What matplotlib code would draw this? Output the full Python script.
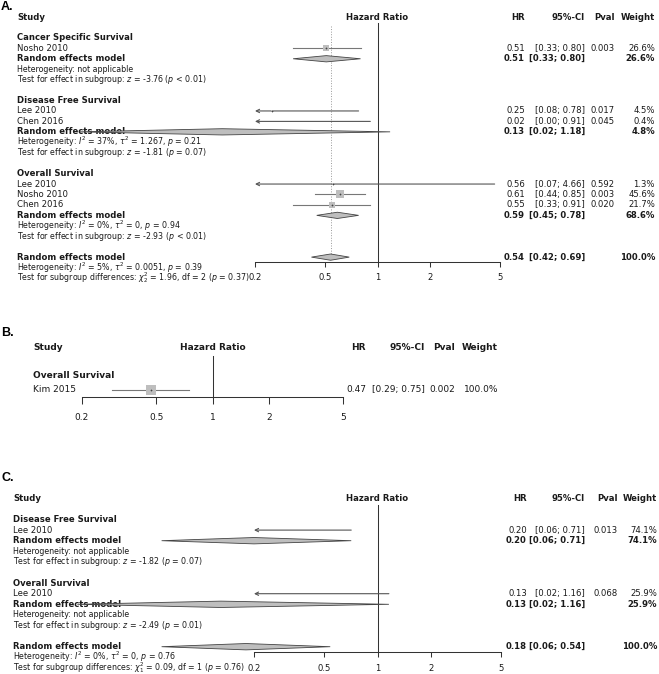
import matplotlib
matplotlib.use('Agg')
import matplotlib.pyplot as plt
from matplotlib import transforms
from matplotlib.patches import Polygon
from matplotlib.ticker import NullLocator

W, H = 659, 674
XMIN, XMAX = 0.2, 5
TICKS = [0.2, 0.5, 1, 2, 5]
TICKLABELS = ['0.2', '0.5', '1', '2', '5']
TXT = '#1a1a1a'
SQ = '#bebebe'
LINE = '#777777'

########################################################################################################################
## Panel A data
########################################################################################################################
a_groups = ['Cancer Specific Survival', 'Disease Free Survival', 'Overall Survival']
a_studies = [['Nosho 2010'], ['Lee 2010', 'Chen 2016'], ['Lee 2010', 'Nosho 2010', 'Chen 2016']]
a_hr = [[0.51], [0.25, 0.02], [0.56, 0.61, 0.55]]
a_lo = [[0.33], [0.08, 0.00], [0.07, 0.44, 0.33]]
a_hi = [[0.80], [0.78, 0.91], [4.66, 0.85, 0.91]]
a_pval = [['0.003'], ['0.017', '0.045'], ['0.592', '0.003', '0.020']]
a_weight = [[26.6], [4.5, 0.4], [1.3, 45.6, 21.7]]
a_sub_hr = [0.51, 0.13, 0.59]
a_sub_lo = [0.33, 0.02, 0.45]
a_sub_hi = [0.80, 1.18, 0.78]
a_sub_weight = [26.6, 4.8, 68.6]
a_het = ['Heterogeneity: not applicable',
         r'Heterogeneity: $I^2$ = 37%, $\tau^2$ = 1.267, $p$ = 0.21',
         r'Heterogeneity: $I^2$ = 0%, $\tau^2$ = 0, $p$ = 0.94']
a_test = [r'Test for effect in subgroup: $z$ = -3.76 ($p$ < 0.01)',
          r'Test for effect in subgroup: $z$ = -1.81 ($p$ = 0.07)',
          r'Test for effect in subgroup: $z$ = -2.93 ($p$ < 0.01)']
a_total = [0.54, 0.42, 0.69, 100.0]
a_total_het = r'Heterogeneity: $I^2$ = 5%, $\tau^2$ = 0.0051, $p$ = 0.39'
a_total_test = r'Test for subgroup differences: $\chi^2_2$ = 1.96, df = 2 ($p$ = 0.37)'

########################################################################################################################
## Panel B data
########################################################################################################################
b_groups = ['Overall Survival']
b_studies = [['Kim 2015']]
b_hr = [[0.47]]
b_lo = [[0.29]]
b_hi = [[0.75]]
b_pval = [['0.002']]
b_weight = [[100.0]]

########################################################################################################################
## Panel C data
########################################################################################################################
c_groups = ['Disease Free Survival', 'Overall Survival']
c_studies = [['Lee 2010'], ['Lee 2010']]
c_hr = [[0.20], [0.13]]
c_lo = [[0.06], [0.02]]
c_hi = [[0.71], [1.16]]
c_pval = [['0.013'], ['0.068']]
c_weight = [[74.1], [25.9]]
c_sub_hr = [0.20, 0.13]
c_sub_lo = [0.06, 0.02]
c_sub_hi = [0.71, 1.16]
c_sub_weight = [74.1, 25.9]
c_het = ['Heterogeneity: not applicable', 'Heterogeneity: not applicable']
c_test = [r'Test for effect in subgroup: $z$ = -1.82 ($p$ = 0.07)',
          r'Test for effect in subgroup: $z$ = -2.49 ($p$ = 0.01)']
c_total = [0.18, 0.06, 0.54, 100.0]
c_total_het = r'Heterogeneity: $I^2$ = 0%, $\tau^2$ = 0, $p$ = 0.76'
c_total_test = r'Test for subgroup differences: $\chi^2_1$ = 0.09, df = 1 ($p$ = 0.76)'


def forest(fig, lay, groups, studies, hr, lo, hi, pval, weight,
           sub=None, het=None, test=None, total=None, total_het=None, total_test=None):
    # lay: pixel layout of the panel
    y0, dy, base = lay['y0'], lay['dy'], lay['base']
    nb = (base - y0) / dy
    ax = fig.add_axes([lay['x02'] / W, 1 - base / H, (lay['x5'] - lay['x02']) / W, (base - y0 + dy) / H])
    ax.patch.set_visible(False)
    ax.set_xscale('log')
    ax.set_xlim(XMIN, XMAX)
    ax.set_ylim(nb, -1)
    ax.set_xticks(TICKS)
    ax.set_xticklabels(TICKLABELS)
    ax.xaxis.set_minor_locator(NullLocator())
    ax.set_yticks([])
    for s in ['top', 'left', 'right']:
        ax.spines[s].set_visible(False)
    ax.spines['bottom'].set_color('#333333')
    ax.spines['bottom'].set_linewidth(0.75)
    ax.tick_params(axis='x', direction='out', length=lay['tick'] * 0.72, width=0.75, color='#333333',
                   labelsize=lay['fs'], labelcolor=TXT, pad=lay['pad'])

    tr = transforms.blended_transform_factory(fig.transFigure, ax.transData)
    fs, fss = lay['fs'], lay['fss']
    dh = 0.3

    def put(xpx, y, s, ha='left', bold=False, size=None):
        ax.text(xpx / W, y, s, transform=tr, ha=ha, va='center', fontsize=size or fs,
                fontweight='bold' if bold else 'normal', color=TXT)

    def cols(y, est, l, h, p, w, bold=False):
        put(lay['hr'], y, '%.2f' % est, 'right', bold)
        put(lay['ci'], y, '[%.2f; %.2f]' % (l, h), 'right', bold)
        if p:
            put(lay['pv'], y, p, 'right', bold)
        put(lay['wt'], y, '%.1f%%' % w, 'right', bold)

    def diamond(y, est, l, h):
        ax.add_patch(Polygon([(l, y), (est, y - dh), (h, y), (est, y + dh)], closed=True,
                             fc=SQ, ec='#444444', lw=0.6, clip_on=False, zorder=4))

    # header
    put(lay['lab'], 0, 'Study', bold=True)
    ax.text(1, 0, 'Hazard Ratio', ha='center', va='center', fontsize=fs, fontweight='bold', color=TXT)
    put(lay['hr'], 0, 'HR', 'right', True)
    put(lay['ci'], 0, '95%-CI', 'right', True)
    put(lay['pv'], 0, 'Pval', 'right', True)
    put(lay['wt'], 0, 'Weight', 'right', True)

    r = 1
    for g in range(len(groups)):
        r += 1
        put(lay['lab'], r, groups[g], bold=True)
        r += 1
        for k in range(len(studies[g])):
            est, l, h, w = hr[g][k], lo[g][k], hi[g][k], weight[g][k]
            put(lay['lab'], r, studies[g][k])
            if l < XMIN:
                ax.annotate('', xy=(XMIN, r), xytext=(h, r), annotation_clip=False,
                            arrowprops=dict(arrowstyle='->,head_length=2.4,head_width=1.2', mutation_scale=1,
                                            color='#555555', lw=0.8, shrinkA=0, shrinkB=0))
            else:
                ax.plot([l, h], [r, r], color=LINE, lw=0.8, zorder=2)
            if XMIN < est < XMAX:
                ax.scatter([est], [r], s=lay['sq'] * w, marker='s', color=SQ, lw=0, zorder=3)
                ax.plot([est], [r], marker='+', ms=2, mew=0.5, color='#444444', zorder=3)
            cols(r, est, l, h, pval[g][k], w)
            r += 1
        if sub is not None:
            put(lay['lab'], r, 'Random effects model', bold=True)
            diamond(r, sub[0][g], sub[1][g], sub[2][g])
            cols(r, sub[0][g], sub[1][g], sub[2][g], None, sub[3][g], bold=True)
            put(lay['lab'], r + 1, het[g], size=fss)
            put(lay['lab'], r + 2, test[g], size=fss)
            r += 3

    if total is not None:
        r += 1
        put(lay['lab'], r, 'Random effects model', bold=True)
        diamond(r, total[0], total[1], total[2])
        cols(r, total[0], total[1], total[2], None, total[3], bold=True)
        put(lay['lab'], r + 1, total_het, size=fss)
        put(lay['lab'], r + 2, total_test, size=fss)
        if XMIN < total[0] < XMAX:
            ax.plot([total[0], total[0]], [0.9, r - dh], ls=':', color='#999999', lw=0.7, zorder=1)

    # line of no effect
    ax.plot([1, 1], [0.6, nb], color='#333333', lw=0.75, clip_on=False, zorder=2)
    return ax


fig = plt.figure(figsize=(W / 100, H / 100), dpi=100)

lay_a = dict(y0=17, dy=10.44, base=262.3, x02=255, x5=500, lab=17, hr=525, ci=585, pv=615, wt=655,
             fs=6.1, fss=5.7, tick=4.5, pad=4.3, sq=0.86)
forest(fig, lay_a, a_groups, a_studies, a_hr, a_lo, a_hi, a_pval, a_weight,
       sub=[a_sub_hr, a_sub_lo, a_sub_hi, a_sub_weight], het=a_het, test=a_test,
       total=a_total, total_het=a_total_het, total_test=a_total_test)

lay_b = dict(y0=348, dy=14, base=396.7, x02=81.7, x5=343.3, lab=33, hr=366, ci=425, pv=455, wt=498,
             fs=6.5, fss=6.0, tick=6.7, pad=7.0, sq=0.45)
forest(fig, lay_b, b_groups, b_studies, b_hr, b_lo, b_hi, b_pval, b_weight)

lay_c = dict(y0=498.3, dy=10.6, base=651.7, x02=254, x5=501, lab=13, hr=527, ci=585, pv=618, wt=657,
             fs=6.1, fss=5.7, tick=5, pad=5.0, sq=0.86)
forest(fig, lay_c, c_groups, c_studies, c_hr, c_lo, c_hi, c_pval, c_weight,
       sub=[c_sub_hr, c_sub_lo, c_sub_hi, c_sub_weight], het=c_het, test=c_test,
       total=c_total, total_het=c_total_het, total_test=c_total_test)

for lbl, ypx in [('A.', 7), ('B.', 333), ('C.', 478)]:
    fig.text(1 / W, 1 - ypx / H, lbl, fontsize=9, fontweight='bold', family='Liberation Sans',
             va='center', ha='left', color='black')

fig.savefig('out.png', dpi=100)
